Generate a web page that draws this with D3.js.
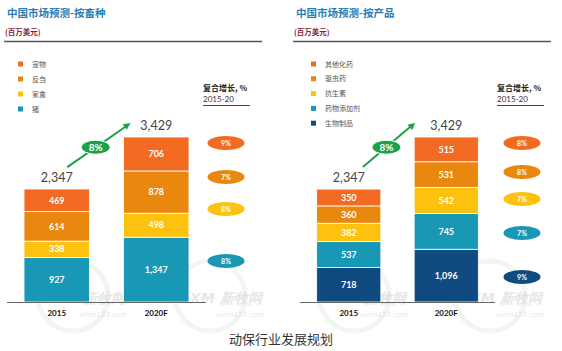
<!DOCTYPE html>
<html>
<head>
<meta charset="utf-8">
<script src="https://cdn.jsdelivr.net/npm/d3@7"></script>
<style>
  body { margin: 0; background: #fff; }
  svg { display: block; }
</style>
</head>
<body>
<div id="chart"></div>
<script>
// data
var years = ["2015", "2020F"];
var totals = [2347, 3429];
var totalCagr = "8%";

var speciesCats = ["宠物", "反刍", "家禽", "猪"];
var species2015 = [469, 614, 338, 927];
var species2020 = [706, 878, 498, 1347];
var speciesCagr = ["9%", "7%", "8%", "8%"];

var productCats = ["其他化药", "驱虫药", "抗生素", "药物添加剂", "生物制品"];
var product2015 = [350, 360, 382, 537, 718];
var product2020 = [515, 531, 542, 745, 1096];
var productCagr = ["8%", "8%", "7%", "7%", "9%"];

var colors = ["#f36a22", "#e8880f", "#fdc210", "#1898b5", "#0f4a80"];
var cjk = "'Noto Sans CJK SC', sans-serif";
var latin = "Lato, 'Open Sans', sans-serif";

var w = 562, h = 351;
var svg = d3.select("#chart").append("svg").attr("width", w).attr("height", h);

var y = d3.scaleLinear().domain([0, d3.max(totals)]).range([302, 137]);

function fmt(v) { return d3.format(",")(v); }

function drawPanel(opt) {
  var g = svg.append("g");
  var cats = opt.cats;
  var x = d3.scaleBand().domain(years).range(opt.xRange)
            .paddingInner(0.342).paddingOuter(0.171);
  var bw = x.bandwidth();

  // heading
  g.append("text").attr("x", opt.left + 3).attr("y", 17)
   .style("font-family", cjk).style("font-size", "10.5px").style("font-weight", "bold")
   .attr("fill", "#2b7db3").text(opt.title);
  g.append("text").attr("x", opt.left + 1).attr("y", 35)
   .style("font-family", cjk).style("font-size", "7.5px").style("font-weight", "bold")
   .attr("fill", "#8a1f3c").text("(百万美元)");
  g.append("line").attr("x1", opt.left).attr("x2", opt.left + 258)
   .attr("y1", 41.5).attr("y2", 41.5).attr("stroke", "#555").attr("stroke-width", 1.5);

  // watermarks (behind everything else)
  opt.marks.forEach(function(mx) {
    g.append("circle").attr("cx", mx + 20).attr("cy", 296).attr("r", 35)
     .attr("fill", "none").attr("stroke", "#e3efdf").attr("stroke-width", 5).attr("opacity", 0.5);
    g.append("text").attr("x", mx).attr("y", 303)
     .style("font-family", "'DejaVu Sans', sans-serif").style("font-size", "14px")
     .style("font-style", "italic").style("font-weight", "bold")
     .attr("fill", "#d4d4d4").attr("opacity", 0.55).text("XM 新牧网");
    g.append("text").attr("x", mx + 26).attr("y", 317)
     .style("font-family", "'DejaVu Sans', sans-serif").style("font-size", "7px")
     .style("font-style", "italic").attr("fill", "#d4d4d4").attr("opacity", 0.55).text("xinm123.com");
  });

  // legend
  var leg = g.selectAll(".leg").data(cats).enter().append("g")
    .attr("transform", function(d, i) { return "translate(" + opt.legX + "," + (opt.legY + i * opt.legStep) + ")"; });
  leg.append("rect").attr("x", 0).attr("y", -2.5).attr("width", 5).attr("height", 5)
     .attr("fill", function(d, i) { return colors[i]; });
  leg.append("text").attr("x", 14).attr("y", 2.5)
     .style("font-family", cjk).style("font-size", "7px").attr("fill", "#555")
     .text(function(d) { return d; });

  // CAGR heading
  g.append("text").attr("x", opt.cagrX).attr("y", 91)
   .style("font-family", cjk).style("font-size", "8px").style("font-weight", "bold")
   .attr("fill", "#222").text("复合增长, %");
  g.append("text").attr("x", opt.cagrX).attr("y", 102)
   .style("font-family", latin).style("font-size", "8px").attr("fill", "#333").text("2015-20");
  g.append("line").attr("x1", opt.cagrX).attr("x2", opt.cagrX + 47)
   .attr("y1", 105.5).attr("y2", 105.5).attr("stroke", "#444").attr("stroke-width", 1);

  // stacked bars, last category at the bottom
  var rows = [opt.v2015, opt.v2020];
  years.forEach(function(yr, yi) {
    var vals = rows[yi];
    var base = 0;
    for (var i = vals.length - 1; i >= 0; i--) {
      var y0 = y(base), y1 = y(base + vals[i]);
      g.append("rect").attr("x", x(yr)).attr("y", y1)
       .attr("width", bw).attr("height", y0 - y1)
       .attr("fill", colors[i]).attr("stroke", "#fff").attr("stroke-width", 0.8);
      g.append("text").attr("x", x(yr) + bw / 2).attr("y", (y0 + y1) / 2 + 3.2)
       .attr("text-anchor", "middle").style("font-family", latin)
       .style("font-size", "9px").style("font-weight", "bold").attr("fill", "#fff")
       .text(fmt(vals[i]));
      base += vals[i];
    }
    g.append("text").attr("x", x(yr) + bw / 2).attr("y", y(totals[yi]) - 7)
     .attr("text-anchor", "middle").style("font-family", latin)
     .style("font-size", "12.5px").attr("fill", "#444").text(fmt(totals[yi]));
    g.append("text").attr("x", x(yr) + bw / 2).attr("y", 316)
     .attr("text-anchor", "middle").style("font-family", latin)
     .style("font-size", "8px").style("font-weight", "bold").attr("fill", "#111").text(yr);
  });

  // baseline
  g.append("line").attr("x1", opt.xRange[0]).attr("x2", opt.xRange[1])
   .attr("y1", y(0) + 0.5).attr("y2", y(0) + 0.5).attr("stroke", "#666").attr("stroke-width", 1);

  // growth arrow
  var ax0 = x(years[0]) + bw * opt.arrow[0], ay0 = y(totals[0]) - 22;
  var ax1 = x(years[1]) + opt.arrow[1], ay1 = y(totals[1]) - 14;
  g.append("line").attr("x1", ax0).attr("y1", ay0).attr("x2", ax1 - 4).attr("y2", ay1 + 3)
   .attr("stroke", "#1aa14a").attr("stroke-width", 2);
  var ang = Math.atan2(ay1 - ay0, ax1 - ax0);
  var hl = 7, hw = 3.5;
  var bx = ax1 - hl * Math.cos(ang), by = ay1 - hl * Math.sin(ang);
  g.append("path")
   .attr("d", "M" + ax1 + "," + ay1 +
              "L" + (bx + hw * Math.sin(ang)) + "," + (by - hw * Math.cos(ang)) +
              "L" + (bx - hw * Math.sin(ang)) + "," + (by + hw * Math.cos(ang)) + "Z")
   .attr("fill", "#1aa14a");
  var ex = ax0 + (ax1 - ax0) * 0.45, ey = ay0 + (ay1 - ay0) * 0.45;
  g.append("ellipse").attr("cx", ex).attr("cy", ey).attr("rx", 14.5).attr("ry", 7)
   .attr("fill", "#1aa14a").attr("stroke", "#fff").attr("stroke-width", 1);
  g.append("text").attr("x", ex).attr("y", ey + 3.5).attr("text-anchor", "middle")
   .style("font-family", latin).style("font-size", "10px").style("font-weight", "bold")
   .attr("fill", "#fff").text(totalCagr);

  // CAGR bubbles
  opt.cagr.forEach(function(c, i) {
    g.append("ellipse").attr("cx", opt.bubX).attr("cy", opt.bubY[i]).attr("rx", 18.5).attr("ry", 7)
     .attr("fill", colors[i]);
    g.append("text").attr("x", opt.bubX).attr("y", opt.bubY[i] + 2.5).attr("text-anchor", "middle")
     .style("font-family", latin).style("font-size", "7px").style("font-weight", "bold")
     .attr("fill", "#fff").text(c);
  });
}

drawPanel({
  title: "中国市场预测-按畜种", left: 4, cats: speciesCats,
  v2015: species2015, v2020: species2020, cagr: speciesCagr,
  xRange: [7, 206], legX: 18, legY: 64, legStep: 15,
  cagrX: 203, bubX: 226, bubY: [143, 177, 209, 261],
  arrow: [0.66, 7], marks: [53, 190]
});

drawPanel({
  title: "中国市场预测-按产品", left: 293, cats: productCats,
  v2015: product2015, v2020: product2020, cagr: productCagr,
  xRange: [300, 495], legX: 311, legY: 64, legStep: 14.8,
  cagrX: 497, bubX: 522, bubY: [143, 172, 199, 233, 277],
  arrow: [0.72, 1], marks: [334, 470]
});

svg.append("text").attr("x", w / 2).attr("y", 344).attr("text-anchor", "middle")
   .style("font-family", cjk).style("font-size", "13px").attr("fill", "#333")
   .text("动保行业发展规划");
</script>
</body>
</html>
